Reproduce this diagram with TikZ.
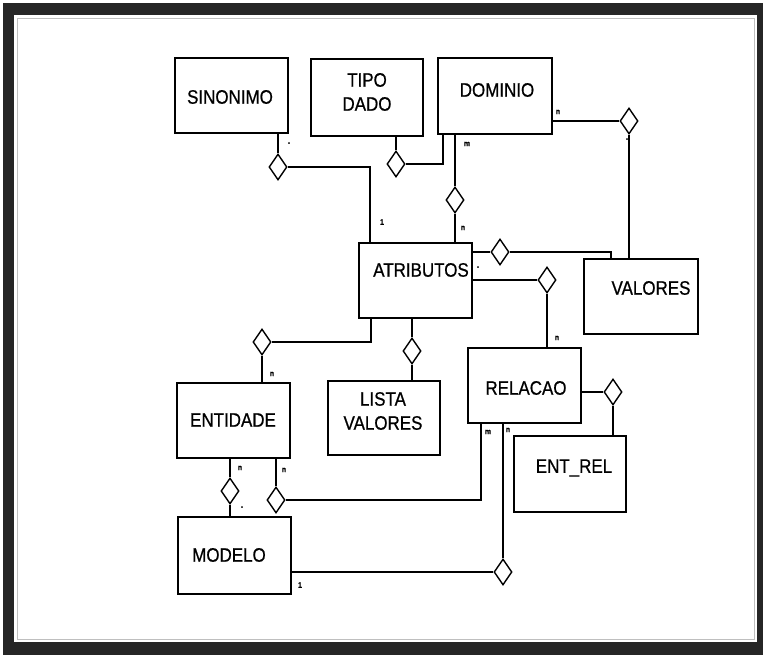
\documentclass[tikz,border=0pt]{standalone}
\usepackage{fontspec}
\setmainfont{Liberation Sans}[FakeStretch=0.87,FakeBold=0.7]
\usetikzlibrary{shapes.geometric}
\begin{document}
\begin{tikzpicture}[x=1pt,y=-1pt,
  boxst/.style={draw=black,line width=1.5pt,rectangle,inner sep=0pt},
  txt/.style={inner sep=0pt,align=center,font=\fontsize{19.5}{24}\selectfont},
  dia/.style={draw=black,line width=1.4pt,diamond,inner sep=0pt,minimum width=18pt,minimum height=26pt,fill=white},
  conn/.style={line width=1.5pt,draw=black},
  card/.style={inner sep=0pt,font=\fontsize{8}{9}\selectfont\bfseries}]
\useasboundingbox (0,0) rectangle (763,655);
% frame
\fill[black!85] (3,3) rectangle (763,655);
\fill[white] (14,15) rectangle (757,642);
\draw[black!25,line width=0.8pt] (17,18) rectangle (754,639);
% boxes
\node[boxst,minimum width=113pt,minimum height=75pt] (sin) at (231.5,95.5) {};
\node[boxst,minimum width=112pt,minimum height=77pt] (tipo) at (367,97.5) {};
\node[boxst,minimum width=114pt,minimum height=76pt] (dom) at (495,96) {};
\node[boxst,minimum width=113pt,minimum height=75pt] (atr) at (415.5,280.5) {};
\node[boxst,minimum width=114pt,minimum height=75pt] (val) at (641,296.5) {};
\node[boxst,minimum width=113pt,minimum height=75pt] (rel) at (524.5,385.5) {};
\node[boxst,minimum width=112pt,minimum height=76pt] (entrel) at (570,474) {};
\node[boxst,minimum width=113pt,minimum height=75pt] (ent) at (233.5,420.5) {};
\node[boxst,minimum width=112pt,minimum height=74pt] (lista) at (384,418) {};
\node[boxst,minimum width=113pt,minimum height=77pt] (mod) at (234.5,555.5) {};
% texts
\node[txt] (sinT) at (230,97) {SINONIMO};
\node[txt] (tipoT) at (367,92) {TIPO\\DADO};
\node[txt] (domT) at (497,90) {DOMINIO};
\node[txt] (atrT) at (421,270) {ATRIBUTOS};
\node[txt] (valT) at (651,288) {VALORES};
\node[txt] (relT) at (526,388) {RELACAO};
\node[txt] (entrelT) at (574,468) {ENT\_REL};
\node[txt] (entT) at (233,420) {ENTIDADE};
\node[txt] (listaT) at (383,411) {LISTA\\VALORES};
\node[txt] (modT) at (229,555) {MODELO};
% diamonds
\node[dia] (d1) at (278,167) {};
\node[dia] (d2) at (396,164) {};
\node[dia] (d3) at (455,200) {};
\node[dia] (d4) at (629,121) {};
\node[dia] (d5) at (500,252) {};
\node[dia] (d6) at (547,280) {};
\node[dia] (d7) at (613,392) {};
\node[dia] (d8) at (262,342) {};
\node[dia] (d9) at (412,351) {};
\node[dia] (d10) at (230,491) {};
\node[dia] (d11) at (276,500) {};
\node[dia] (d12) at (503,572) {};
% connectors
\draw[conn] (sin.south -| d1) -- (d1.north);
\draw[conn] (d1.east) -| (atr.north -| 370,0);
\draw[conn] (tipo.south -| d2) -- (d2.north);
\draw[conn] (d2.east) -| (dom.south -| 443,0);
\draw[conn] (dom.south -| d3) -- (d3.north);
\draw[conn] (d3.south) -- (atr.north -| d3);
\draw[conn] (dom.east |- d4) -- (d4.west);
\draw[conn] (d4.south) -- (val.north -| d4);
\draw[conn] (atr.east |- d5) -- (d5.west);
\draw[conn] (d5.east) -| (val.north -| 611,0);
\draw[conn] (atr.east |- d6) -- (d6.west);
\draw[conn] (d6.south) -- (rel.north -| d6);
\draw[conn] (rel.east |- d7) -- (d7.west);
\draw[conn] (d7.south) -- (entrel.north -| d7);
\draw[conn] (atr.south -| 371,0) |- (d8.east);
\draw[conn] (d8.south) -- (ent.north -| d8);
\draw[conn] (atr.south -| d9) -- (d9.north);
\draw[conn] (d9.south) -- (lista.north -| d9);
\draw[conn] (ent.south -| d10) -- (d10.north);
\draw[conn] (d10.south) -- (mod.north -| d10);
\draw[conn] (ent.south -| d11) -- (d11.north);
\draw[conn] (d11.east) -| (rel.south -| 481,0);
\draw[conn] (rel.south -| d12) -- (d12.north);
\draw[conn] (d12.west) -- (mod.east |- d12);
% cardinalities
\node[card] (c1) at (289,144) {-};
\node[card] (c2) at (382,222) {1};
\node[card] (c3) at (467,144) {m};
\node[card] (c4) at (463,228) {n};
\node[card] (c5) at (558,112) {n};
\node[card] (c6) at (627,140) {-};
\node[card] (c7) at (478,268) {-};
\node[card] (c8) at (557,338) {n};
\node[card] (c9) at (272,374) {n};
\node[card] (c10) at (488,432) {m};
\node[card] (c11) at (508,430) {n};
\node[card] (c12) at (240,468) {n};
\node[card] (c13) at (284,470) {n};
\node[card] (c14) at (242,508) {-};
\node[card] (c15) at (300,585) {1};
\end{tikzpicture}
\end{document}
